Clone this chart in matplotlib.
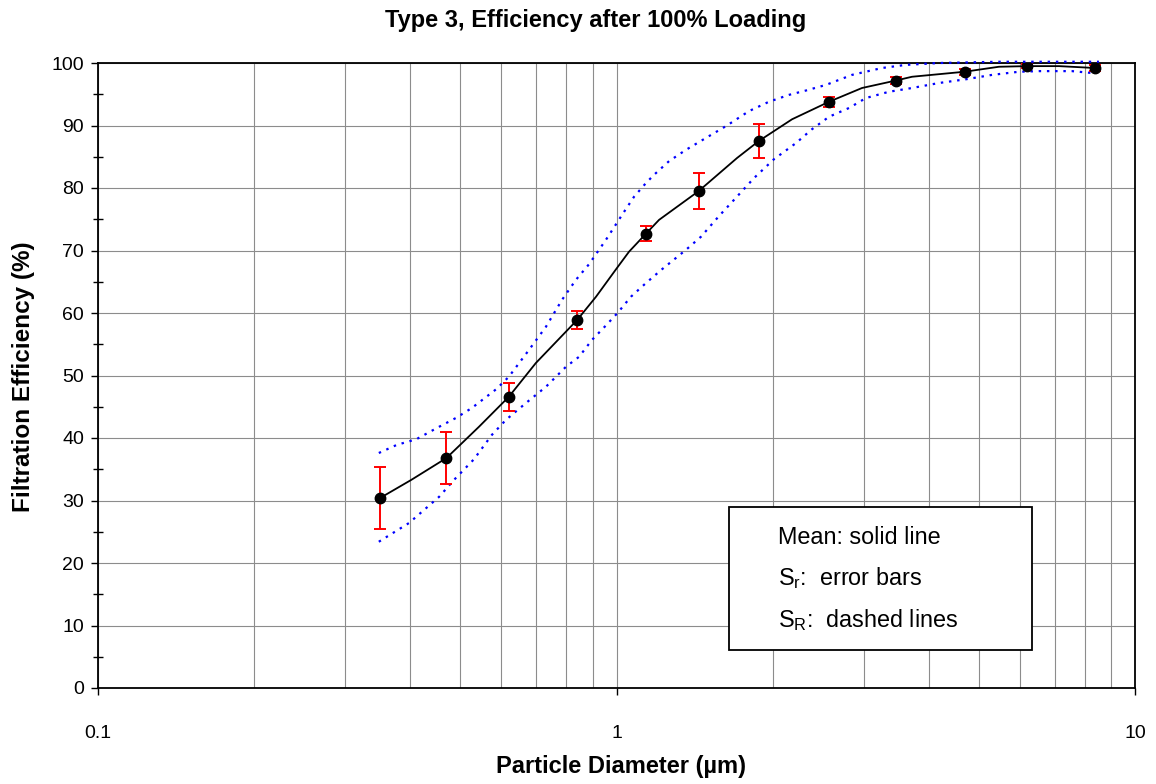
import matplotlib
matplotlib.use("Agg")
import matplotlib.pyplot as plt
from matplotlib.ticker import FixedLocator, MultipleLocator, NullFormatter, LogLocator
from matplotlib.patches import Rectangle

plt.rcParams['font.family'] = ['Liberation Sans', 'DejaVu Sans']
plt.rcParams['mathtext.fontset'] = 'custom'
plt.rcParams['mathtext.rm'] = 'Liberation Sans'
plt.rcParams['mathtext.it'] = 'Liberation Sans'

# ---- data ----
sizes = [0.35, 0.47, 0.62, 0.84, 1.14, 1.44, 1.88, 2.57, 3.46, 4.69, 6.20, 8.37]
eff_mean = [30.4, 36.8, 46.6, 58.9, 72.7, 79.5, 87.5, 93.8, 97.2, 98.6, 99.5, 99.2]
eff_sr = [5.0, 4.2, 2.2, 1.5, 1.2, 2.9, 2.7, 0.8, 0.6, 0.45, 0.3, 0.5]

mean_line_x = [0.35, 0.402, 0.47, 0.543, 0.62, 0.699, 0.84, 0.913, 1.002, 1.057, 1.14,
               1.208, 1.44, 1.708, 1.88, 2.181, 2.57, 2.975, 3.46, 3.715, 4.69, 5.466,
               6.20, 7.136, 8.37]
mean_line_y = [30.4, 33.3, 36.8, 41.8, 46.6, 52.0, 58.9, 62.6, 67.2, 69.8, 72.7,
               74.9, 79.5, 84.8, 87.5, 91.0, 93.8, 96.0, 97.2, 97.8, 98.6, 99.4,
               99.5, 99.5, 99.2]

upper_x = [0.348, 0.377, 0.411, 0.455, 0.490, 0.526, 0.586, 0.620, 0.678, 0.731, 0.785,
           0.835, 0.885, 0.954, 1.025, 1.081, 1.140, 1.181, 1.263, 1.361, 1.508, 1.626,
           1.801, 1.968, 2.151, 2.320, 2.536, 2.846, 3.251, 3.616, 4.188, 5.466, 7.557, 8.52]
upper_y = [37.6, 38.9, 39.8, 41.8, 43.2, 44.8, 47.8, 49.8, 54.1, 57.8, 62.1,
           65.3, 67.8, 71.7, 75.7, 78.6, 80.8, 82.1, 84.3, 86.1, 88.3, 89.9,
           92.3, 93.8, 94.9, 95.6, 96.5, 98.1, 99.2, 99.7, 100.0, 100.2, 100.2, 100.2]

lower_x = [0.348, 0.398, 0.455, 0.486, 0.531, 0.575, 0.612, 0.669, 0.731, 0.799, 0.847,
           0.897, 0.954, 1.007, 1.066, 1.140, 1.224, 1.361, 1.455, 1.576, 1.685, 1.842,
           2.012, 2.220, 2.382, 2.570, 2.808, 3.028, 3.354, 3.715, 4.188, 4.722, 5.301,
           5.975, 6.530, 7.557, 8.263]
lower_y = [23.4, 26.4, 30.6, 33.3, 36.6, 40.5, 42.9, 45.6, 48.2, 51.4, 53.0,
           55.7, 58.0, 60.1, 62.6, 64.8, 67.0, 70.1, 72.2, 75.5, 78.1, 81.6,
           84.6, 87.2, 89.4, 91.4, 92.8, 94.4, 95.4, 96.0, 96.8, 97.4, 98.1,
           98.6, 98.7, 98.7, 98.4]

x_ticks = [0.1, 1, 10]
x_ticklabels = ['0.1', '1', '10']
y_ticks = list(range(0, 101, 10))

title = 'Type 3, Efficiency after 100% Loading'
xlabel = 'Particle Diameter (µm)'
ylabel = 'Filtration Efficiency (%)'
legend_lines = ['Mean: solid line', r'S$_\mathrm{r}$:  error bars', r'S$_\mathrm{R}$:  dashed lines']

# ---- figure ----
W, H = 1156, 784
fig = plt.figure(figsize=(W / 100, H / 100), dpi=100)
ax = fig.add_axes([98 / W, 1 - 688 / H, (1135 - 98) / W, (688 - 63) / H])

ax.set_xscale('log')
ax.set_xlim(0.1, 10)
ax.set_ylim(0, 100)

grid_c = '#8c8c8c'
ax.xaxis.set_major_locator(FixedLocator(x_ticks))
ax.set_xticklabels(x_ticklabels)
ax.xaxis.set_minor_locator(LogLocator(base=10, subs=range(2, 10)))
ax.xaxis.set_minor_formatter(NullFormatter())
ax.yaxis.set_major_locator(FixedLocator(y_ticks))
ax.yaxis.set_minor_locator(MultipleLocator(5))

ax.grid(True, which='major', axis='both', color=grid_c, lw=0.8)
ax.grid(True, which='minor', axis='x', color=grid_c, lw=0.8)
ax.set_axisbelow(True)

ax.tick_params(axis='x', which='major', direction='out', length=5, width=1.0,
               labelsize=14, pad=22, color='black')
ax.tick_params(axis='x', which='minor', length=0)
ax.tick_params(axis='y', which='major', direction='out', length=5, width=1.0,
               labelsize=14, pad=5, color='black')
ax.tick_params(axis='y', which='minor', direction='inout', length=7, width=1.0, color='black')

for s in ax.spines.values():
    s.set_color('black')
    s.set_linewidth(1.3)

# bands
ax.plot(upper_x, upper_y, color='#0000ff', lw=1.6, linestyle=(0, (1.1, 2.6)), clip_on=False, zorder=3)
ax.plot(lower_x, lower_y, color='#0000ff', lw=1.6, linestyle=(0, (1.1, 2.6)), zorder=3)
# mean line
ax.plot(mean_line_x, mean_line_y, color='black', lw=1.3, zorder=4)
# error bars + markers
ax.errorbar(sizes, eff_mean, yerr=eff_sr, fmt='none', ecolor='#ff0000', elinewidth=1.4,
            capsize=4.5, capthick=1.4, zorder=5)
ax.plot(sizes, eff_mean, 'o', color='black', markersize=7.5, zorder=6)

# legend box
box = Rectangle((729 / W, 1 - 650 / H), (1032 - 729) / W, (650 - 507) / H,
                transform=fig.transFigure, facecolor='white', edgecolor='black', lw=1.3, zorder=10)
fig.add_artist(box)
for i, (txt, yp) in enumerate(zip(legend_lines, [538, 578, 620])):
    fig.text(778 / W, 1 - yp / H, txt, fontsize=16.8, ha='left', va='center', zorder=11)

fig.text(596 / W, 1 - 21 / H, title, fontsize=17, fontweight='bold', ha='center', va='center')
fig.text(621 / W, 1 - 767 / H, xlabel, fontsize=17, fontweight='bold', ha='center', va='center')
fig.text(24 / W, 1 - 377 / H, ylabel, fontsize=17.5, fontweight='bold', ha='center', va='center',
         rotation=90)

fig.savefig('out.png', dpi=100)
